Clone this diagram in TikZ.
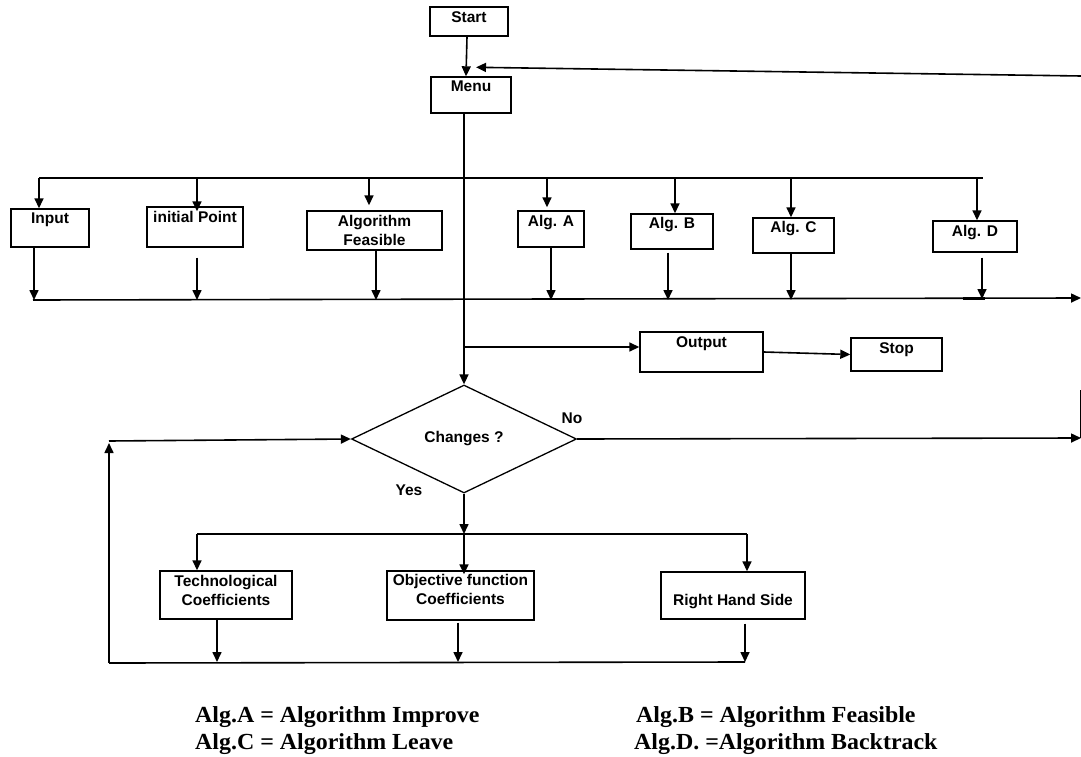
\documentclass[tikz,border=0pt]{standalone}
\usepackage{fontspec}
\usetikzlibrary{arrows.meta,shapes.geometric,calc}
\newfontfamily\arb{Liberation Sans}
\newfontfamily\tnr{Liberation Serif}[FakeStretch=1.04]
\begin{document}
\begin{tikzpicture}[x=1pt,y=-1pt,
  box/.style={draw, line width=1.4pt, inner sep=0pt, rectangle},
  lbl/.style={font=\arb\bfseries\fontsize{15.5}{18}\selectfont, inner sep=0pt, anchor=base},
  con/.style={line width=1.6pt},
  arr/.style={line width=1.6pt, -{Triangle[length=10pt,width=9pt]}},
  leg/.style={font=\tnr\bfseries\fontsize{23}{27}\selectfont, inner sep=0pt, anchor=base west}]
\useasboundingbox (0,0) rectangle (1081,757);

% boxes
\node[box, minimum width=78pt, minimum height=29pt, label={[lbl,yshift=-16pt]north:Start}] (start) at (469,21.5) {};
\node[box, minimum width=80pt, minimum height=36pt, label={[lbl,yshift=-15pt]north:Menu}] (menu) at (471,95) {};
\node[box, minimum width=78pt, minimum height=38pt, label={[lbl,yshift=-15pt]north:Input}] (input) at (50,228) {};
\node[box, minimum width=96pt, minimum height=40pt, label={[lbl,yshift=-16pt]north:initial Point}] (initp) at (195,227) {};
\node[box, minimum width=135pt, minimum height=39pt, label={[lbl,yshift=-16pt]north:Algorithm}, label={[lbl,yshift=-35pt]north:Feasible}] (algf) at (374.5,230.5) {};
\node[box, minimum width=66pt, minimum height=36pt, label={[lbl,yshift=-16pt]north:Alg. A}] (algA) at (551,229) {};
\node[box, minimum width=82pt, minimum height=35pt, label={[lbl,yshift=-15pt]north:Alg. B}] (algB) at (672,231.5) {};
\node[box, minimum width=81pt, minimum height=35pt, label={[lbl,yshift=-15pt]north:Alg. C}] (algC) at (793.5,235.5) {};
\node[box, minimum width=84pt, minimum height=31pt, label={[lbl,yshift=-16pt]north:Alg. D}] (algD) at (975,236.5) {};
\node[box, minimum width=123pt, minimum height=40pt, label={[lbl,yshift=-16pt]north:Output}] (output) at (701.5,352) {};
\node[box, minimum width=91pt, minimum height=33pt, label={[lbl,yshift=-16pt]north:Stop}] (stop) at (896.5,354.5) {};
\node[draw, diamond, line width=1.3pt, minimum width=225pt, minimum height=108pt, inner sep=0pt,
      font=\arb\bfseries\fontsize{15.5}{18}\selectfont] (dia) at (464,439) {Changes ?};
\node[box, minimum width=132pt, minimum height=48pt, label={[lbl,yshift=-16pt]north:Technological}, label={[lbl,yshift=-35pt]north:Coefficients}] (tech) at (226,595) {};
\node[box, minimum width=147pt, minimum height=49pt, label={[lbl,yshift=-15pt]north:Objective function}, label={[lbl,yshift=-34pt]north:Coefficients}] (obj) at (460.5,595.5) {};
\node[box, minimum width=144pt, minimum height=47pt, label={[lbl,yshift=-34pt]north:Right Hand Side}] (rhs) at (733,595.5) {};

\node[lbl, anchor=center] (no) at (572,418) {No};
\node[lbl, anchor=center] (yes) at (409,490) {Yes};

% coordinates
\coordinate (rt) at (1081,76);
\coordinate (tbL) at (39,178);  \coordinate (tbR) at (983,178);
\coordinate (tP) at (197,178);  \coordinate (tF) at (369,178);
\coordinate (tA) at (547,178);  \coordinate (tB) at (675,178);
\coordinate (tC) at (791,178);  \coordinate (tD) at (977,178);
\coordinate (lbL) at (33,300);  \coordinate (lbR) at (1081,298);
\coordinate (oI) at (34,300);   \coordinate (oP) at (197,300);
\coordinate (oF) at (376,300);  \coordinate (oA) at (551,300);
\coordinate (oB) at (668,300);  \coordinate (oC) at (791,300);
\coordinate (oD) at (982,299);
\coordinate (ob) at (464,347);
\coordinate (noE) at (1081,438);
\coordinate (rv1) at (1080.4,390); \coordinate (rv2) at (1080.4,438);
\coordinate (bbL) at (197,534); \coordinate (bbM) at (464,534); \coordinate (bbR) at (747,534);
\coordinate (qT) at (217,662);  \coordinate (qO) at (458,662);  \coordinate (qR) at (745,662);
\coordinate (lpL) at (109,663); \coordinate (lpT) at (109,443); \coordinate (lpH) at (109,441);

% top part
\draw[arr] ($(start.south)+(-2,0)$) -- ($(menu.north)+(-5,0)$);
\draw[arr] (rt) -- ($(menu.north)+(5,-9)$);
\draw[arr] (menu.south -| dia.north) -- (dia.north);

% upper bus and branches
\draw[con] (tbL) -- (tbR);
\draw[arr] (tbL) -- (tbL |- input.north);
\draw[arr] (tP) -- ($(tP |- initp.north)+(0,5)$);
\draw[arr] (tF) -- ($(tF |- algf.north)+(0,-5)$);
\draw[arr] (tA) -- ($(tA |- algA.north)+(0,-3)$);
\draw[arr] (tB) -- (tB |- algB.north);
\draw[arr] (tC) -- (tC |- algC.north);
\draw[arr] (tD) -- (tD |- algD.north);

% lower bus
\draw[arr] (lbL) -- (lbR);
\draw[line width=2.2pt] (963,298.5) -- (985,298.5);
\draw[arr] (oI |- input.south) -- (oI);
\draw[arr] ($(oP |- initp.south)+(0,10)$) -- (oP);
\draw[arr] (oF |- algf.south) -- (oF);
\draw[arr] (oA |- algA.south) -- (oA);
\draw[arr] ($(oB |- algB.south)+(0,3)$) -- (oB);
\draw[arr] (oC |- algC.south) -- (oC);
\draw[arr] ($(oD |- algD.south)+(0,5)$) -- (oD);

% output / stop
\draw[arr] (ob) -- (ob -| output.west);
\draw[arr] (output.east) -- (stop.west);

% decision
\draw[arr] (dia.east) -- (noE);
\draw[line width=1.2pt] (rv1) -- (rv2);
\draw[arr] (dia.south) -- (bbM);
\draw[con] (bbL) -- (bbR);
\draw[arr] (bbL) -- (bbL |- tech.north);
\draw[arr] (bbM) -- ($(bbM |- obj.north)+(0,4)$);
\draw[arr] (bbR) -- (bbR |- rhs.north);
\draw[arr] (qT |- tech.south) -- (qT);
\draw[arr] ($(qO |- obj.south)+(0,2)$) -- (qO);
\draw[arr] ($(qR |- rhs.south)+(0,4)$) -- (qR);
\draw[con] (lpL) -- (qR);
\draw[arr] (lpL) -- (lpT);
\draw[arr] (lpH) -- (dia.west);

% legend
\node[leg] (lgA) at (195,722) {Alg.A = Algorithm Improve};
\node[leg] (lgC) at (195,749) {Alg.C = Algorithm Leave};
\node[leg] (lgB) at (636,722) {Alg.B = Algorithm Feasible};
\node[leg] (lgD) at (634,749) {Alg.D. =Algorithm Backtrack};
\end{tikzpicture}
\end{document}
